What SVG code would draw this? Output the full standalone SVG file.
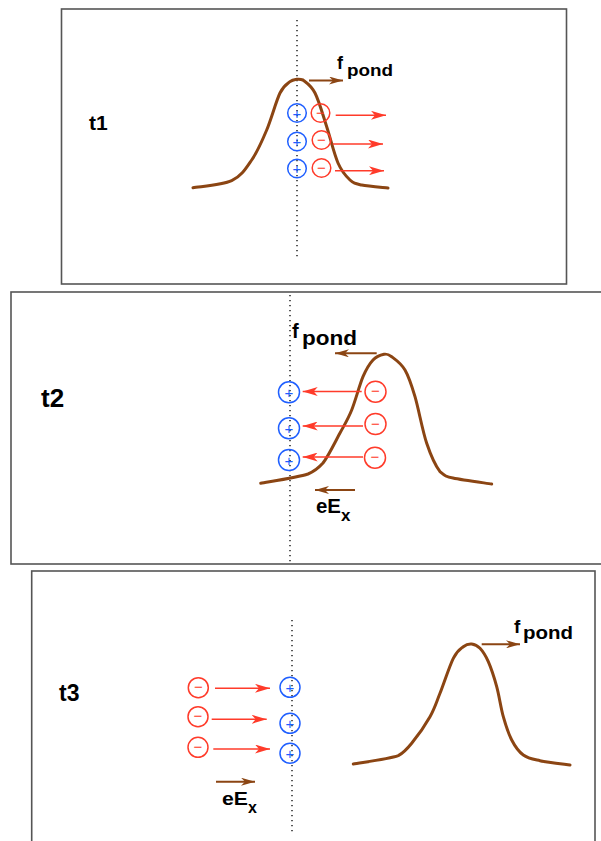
<svg xmlns="http://www.w3.org/2000/svg" width="601" height="841" viewBox="0 0 601 841">
<style>
.frame{fill:none;stroke:#555;stroke-width:1.6}
.dot{fill:none;stroke:#000;stroke-width:1.3;stroke-dasharray:1.3 3.7}
.curve{fill:none;stroke:#8b4513;stroke-width:3;stroke-linejoin:round;stroke-linecap:round}
.ion{fill:none;stroke:#1f5fff;stroke-width:1.5}
.el{fill:none;stroke:#ff3b2a;stroke-width:1.5}
.ionT{fill:#1f5fff;font-family:"Liberation Sans",Arial,sans-serif;font-size:15px;text-anchor:middle;dominant-baseline:central}
.elT{fill:#ff3b2a;font-family:"Liberation Sans",Arial,sans-serif;font-size:15px;text-anchor:middle;dominant-baseline:central}
.ra{stroke:#ff3b2a;stroke-width:1.5;fill:none;marker-end:url(#redHead)}
.ba{stroke:#8b4513;stroke-width:2;fill:none;marker-end:url(#brownHead)}
.lbl{font-family:"Liberation Sans",Arial,sans-serif;font-weight:bold;fill:#000}
</style>
<defs>
<marker id="redHead" markerUnits="userSpaceOnUse" markerWidth="16" markerHeight="9" refX="15" refY="4.5" orient="auto">
<path d="M0,0 L15,4.5 L0,9 L4,4.5 z" fill="#ff3b2a"/>
</marker>
<marker id="brownHead" markerUnits="userSpaceOnUse" markerWidth="15" markerHeight="8" refX="14" refY="4" orient="auto">
<path d="M0,0 L14,4 L0,8 L4,4 z" fill="#8b4513"/>
</marker>
</defs>

<g id="panel1">
<rect class="frame" x="61.5" y="9" width="505" height="275"/>
<line class="dot" x1="297" y1="20" x2="297" y2="258"/>
<text class="lbl" x="89" y="130" font-size="21">t1</text>
<path class="curve" d="M193,187.7 C199.5,186.5 221.9,185.3 231.7,180.7 C241.5,176.1 245.9,168.5 251.7,160 C257.5,151.6 262,141.2 266.7,130 C271.4,118.8 276.1,101 280,93 C283.9,85 287.2,84 290,81.7 C292.8,79.4 294.5,79.6 296.7,79.3 C298.9,79 300.5,79 303,80 C306,82.3 311,85.2 315,93 C319,100.8 322.9,115 326.7,126.7 C330.5,138.4 334.1,154.1 338,163 C341.9,171.9 346,176.3 350,180 C354,183.7 355.4,183.7 361.7,185 C368,186.3 383.6,187.5 388,188"/>
<text class="lbl" x="337" y="69" font-size="18">f</text>
<text class="lbl" x="347" y="76" font-size="17" textLength="46" lengthAdjust="spacingAndGlyphs">pond</text>
<g id="p1ions">
<circle class="ion" cx="297" cy="113" r="9.3"/><text class="ionT" x="297" y="113">+</text>
<circle class="ion" cx="297" cy="141.5" r="9.3"/><text class="ionT" x="297" y="141.5">+</text>
<circle class="ion" cx="297" cy="168.5" r="9.3"/><text class="ionT" x="297" y="168.5">+</text>
</g>
<g id="p1electrons">
<circle class="el" cx="320.5" cy="113" r="9.3"/><text class="elT" x="320.5" y="112">−</text>
<circle class="el" cx="321.5" cy="140" r="9.3"/><text class="elT" x="321.5" y="139">−</text>
<circle class="el" cx="321.5" cy="168" r="9.3"/><text class="elT" x="321.5" y="167">−</text>
</g>
</g>

<g id="panel2">
<rect class="frame" x="11" y="292" width="600" height="272"/>
<line class="dot" x1="290" y1="295" x2="290" y2="563"/>
<text class="lbl" x="41" y="407" font-size="26">t2</text>
<path class="curve" d="M260.7,483.3 C268.6,481.8 297.6,477.4 308,474 C314,471.5 318.5,468 323,463 C328.3,456.2 335.2,441.8 340,433 C344.8,424.2 347.9,419.4 351.7,410 C355.5,400.6 359.5,385 363,376.7 C366.6,368.4 369.5,363.7 373,360 C376.5,356.3 380.9,354.9 384,354.3 C387.1,353.8 388.2,354.1 391.7,356.7 C395.2,359.3 401.1,363.3 405,370 C408.9,376.7 411.4,384.5 415,396.7 C418.6,408.9 422.5,430.8 426.7,443.3 C430.9,455.8 435.6,465.9 440,471.7 C444.5,475.5 446,477 453,478 C461.6,480 485.2,483 491.7,484"/>
<text class="lbl" x="292" y="338" font-size="20">f</text>
<text class="lbl" x="302" y="345" font-size="20" textLength="55" lengthAdjust="spacingAndGlyphs">pond</text>
<text class="lbl" x="316" y="513" font-size="20" textLength="25" lengthAdjust="spacingAndGlyphs">eE</text>
<text class="lbl" x="341" y="521" font-size="17">x</text>
<g id="p2ions">
<circle class="ion" cx="289" cy="392.3" r="10.5"/><text class="ionT" x="289" y="392.3">+</text>
<circle class="ion" cx="289" cy="428.3" r="10.5"/><text class="ionT" x="289" y="428.3">+</text>
<circle class="ion" cx="289" cy="460" r="10.5"/><text class="ionT" x="289" y="460">+</text>
</g>
<g id="p2electrons">
<circle class="el" cx="375.5" cy="391.7" r="10.5"/><text class="elT" x="375.5" y="390.7">−</text>
<circle class="el" cx="375.5" cy="424" r="10.5"/><text class="elT" x="375.5" y="423">−</text>
<circle class="el" cx="375" cy="457.7" r="10.5"/><text class="elT" x="375" y="456.7">−</text>
</g>
</g>

<g id="panel3">
<rect class="frame" x="31.7" y="571" width="563.3" height="280"/>
<line class="dot" x1="292" y1="620" x2="292" y2="832"/>
<text class="lbl" x="59" y="701" font-size="23">t3</text>
<path class="curve" d="M353.3,764 C360.8,762.6 388.6,759.2 398.3,755.7 C403.5,753 407.5,748.5 411.7,743.3 C417,736.8 425.3,725 430,716.7 C434.7,708.4 436.1,703 440,693.3 C443.9,683.6 449.4,666.1 453.3,658.3 C457.2,650.5 460.2,649.1 463.3,646.7 C466.4,644.3 468.9,643.7 471.7,644 C474.5,644.3 477.2,645.4 480,648.3 C482.8,651.3 485.5,655.3 488.3,661.7 C491.1,668.1 494.2,677.5 496.7,686.7 C499.2,695.9 500.8,707.8 503.3,716.7 C505.8,725.6 508.4,733.6 511.7,740 C515,746.4 518.6,751.6 523.3,755 C528,758.5 532.2,759 540,760.7 C547.8,762.4 565,764.3 570,765"/>
<text class="lbl" x="514" y="633" font-size="19">f</text>
<text class="lbl" x="523" y="639" font-size="18" textLength="50" lengthAdjust="spacingAndGlyphs">pond</text>
<text class="lbl" x="222" y="805" font-size="19" textLength="26" lengthAdjust="spacingAndGlyphs">eE</text>
<text class="lbl" x="248" y="813" font-size="16">x</text>
<g id="p3electrons">
<circle class="el" cx="198.3" cy="687.7" r="10"/><text class="elT" x="198.3" y="686.7">−</text>
<circle class="el" cx="198" cy="716.7" r="10"/><text class="elT" x="198" y="715.7">−</text>
<circle class="el" cx="198" cy="747.3" r="10"/><text class="elT" x="198" y="746.3">−</text>
</g>
<g id="p3ions">
<circle class="ion" cx="290" cy="687.3" r="10"/><text class="ionT" x="290" y="687.3">+</text>
<circle class="ion" cx="290" cy="723.3" r="10"/><text class="ionT" x="290" y="723.3">+</text>
<circle class="ion" cx="290" cy="753.3" r="10"/><text class="ionT" x="290" y="753.3">+</text>
</g>
</g>

<g id="connectors">
<line class="ba" x1="309" y1="80.5" x2="343" y2="80.5"/>
<line class="ra" x1="335.7" y1="115.3" x2="386" y2="115.3"/>
<line class="ra" x1="332.7" y1="144" x2="383" y2="144"/>
<line class="ra" x1="335" y1="170.7" x2="384" y2="170.7"/>

<line class="ba" x1="376.7" y1="353.3" x2="335" y2="353.3"/>
<line class="ra" x1="361.7" y1="391.5" x2="302.7" y2="391.5"/>
<line class="ra" x1="363" y1="426" x2="302.7" y2="426"/>
<line class="ra" x1="363" y1="457" x2="302.7" y2="457"/>
<line class="ba" x1="355" y1="490" x2="315" y2="490"/>

<line class="ba" x1="481.7" y1="644.3" x2="520" y2="644.3"/>
<line class="ra" x1="215" y1="688.3" x2="270" y2="688.3"/>
<line class="ra" x1="211.7" y1="719.3" x2="266.7" y2="719.3"/>
<line class="ra" x1="213.3" y1="749" x2="270" y2="749"/>
<line class="ba" x1="216" y1="781.7" x2="255" y2="781.7"/>
</g>
</svg>
